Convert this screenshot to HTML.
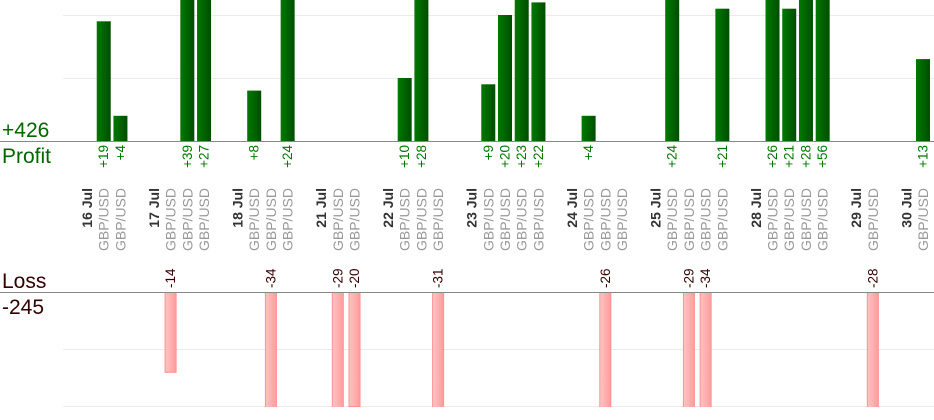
<!DOCTYPE html>
<html><head><meta charset="utf-8"><style>
html,body{margin:0;padding:0;background:#fff;width:934px;height:420px;overflow:hidden}
svg{display:block;font-family:"Liberation Sans",sans-serif}
</style></head><body>
<svg id="chart" width="934" height="420" viewBox="0 0 934 420" xmlns="http://www.w3.org/2000/svg">
<defs>
<linearGradient id="gGreen" x1="0" x2="1" y1="0" y2="0"><stop offset="0" stop-color="#007a00"/><stop offset="1" stop-color="#004d00"/></linearGradient>
<linearGradient id="gPink" x1="0" x2="1" y1="0" y2="0"><stop offset="0" stop-color="#ffc4c4"/><stop offset="1" stop-color="#ff9c9c"/></linearGradient>
<clipPath id="clipTop"><rect x="0" y="0" width="934" height="141"/></clipPath>
<clipPath id="clipBot"><rect x="0" y="292" width="934" height="115"/></clipPath>
</defs>
<g id="grid"></g>
<g id="bars"></g>
<line x1="0" x2="934" y1="141.5" y2="141.5" stroke="#888" stroke-width="1"/>
<line x1="0" x2="934" y1="292.5" y2="292.5" stroke="#888" stroke-width="1"/>
<text x="2" y="137" font-size="21" fill="#006600">+426</text>
<text x="2" y="163" font-size="21" fill="#006600">Profit</text>
<text x="2" y="288" font-size="21" fill="#330000">Loss</text>
<text x="2" y="314" font-size="21" fill="#330000">-245</text>
<g id="labels"></g>
</svg>
<script>
const dates = ["16 Jul","17 Jul","18 Jul","21 Jul","22 Jul","23 Jul","24 Jul","25 Jul","28 Jul","29 Jul","30 Jul"];
const tradesPerDay = [2,3,3,2,3,4,3,4,4,1,1];
const tradeValues = [19,4, -14,39,27, 8,-34,24, -29,-20, 10,28,-31, 9,20,23,22, 4,-26,0, 24,-29,-34,21, 26,21,28,56, -28, 13];
const pairName = "GBP/USD";
const gridProfit = [10,20];
const gridLoss = [10,20];

const NS="http://www.w3.org/2000/svg";
const x0=87, pitch=16.72;
const profitBase=141, profitScale=6.3;
const lossBase=292, lossScale=5.7;
const yP=v=>profitBase-v*profitScale;
const yL=v=>lossBase+v*lossScale;
function mk(tag,attrs,parent){const e=document.createElementNS(NS,tag);for(const k in attrs)e.setAttribute(k,attrs[k]);parent.appendChild(e);return e;}
const grid=document.getElementById('grid'),bars=document.getElementById('bars'),labels=document.getElementById('labels');
gridProfit.forEach(v=>{const l=mk('line',{x1:63,x2:934,y1:yP(v)+0.5,y2:yP(v)+0.5,stroke:'#ebebeb'},grid);

});
gridLoss.forEach(v=>{const l=mk('line',{x1:63,x2:934,y1:yL(v)+0.5,y2:yL(v)+0.5,stroke:'#ebebeb'},grid);

});
const gTop=mk('g',{'clip-path':'url(#clipTop)'},bars);
const gBot=mk('g',{'clip-path':'url(#clipBot)'},bars);
let slot=0,ti=0;
dates.forEach((d,di)=>{
  if(di>0) slot+=1;
  const dx=x0+slot*pitch;
  const dt=mk('text',{transform:`translate(${dx+5},188) rotate(-90)`,'text-anchor':'end','font-size':14,'font-weight':'bold',fill:'#333'},labels);
  dt.textContent=d;
  
  
  slot++;
  for(let k=0;k<tradesPerDay[di];k++){
    const cx=x0+slot*pitch;const v=tradeValues[ti];
    const pl=mk('text',{transform:`translate(${cx+5},188) rotate(-90)`,'text-anchor':'end','font-size':14,fill:'#999'},labels);
    pl.textContent=pairName;
    
    
    if(v>0){
      const r=mk('rect',{x:cx-7,y:yP(v),width:14,height:v*profitScale,fill:'url(#gGreen)'},gTop);
      
      
      const t=mk('text',{transform:`translate(${cx+4.5},145) rotate(-90)`,'text-anchor':'end','font-size':13.5,fill:'#007700'},labels);
      t.textContent='+'+v;
      
      
    } else if(v<0){
      const r=mk('rect',{x:cx-5.5,y:lossBase+0.5,width:11,height:-v*lossScale,fill:'url(#gPink)',stroke:'#ff9090','stroke-width':1},gBot);
      
      
      const t=mk('text',{transform:`translate(${cx+4.5},288) rotate(-90)`,'text-anchor':'start','font-size':13.5,fill:'#330000'},labels);
      t.textContent=String(v);
      
      
    }
    slot++;ti++;
  }
});
</script>
</body></html>
